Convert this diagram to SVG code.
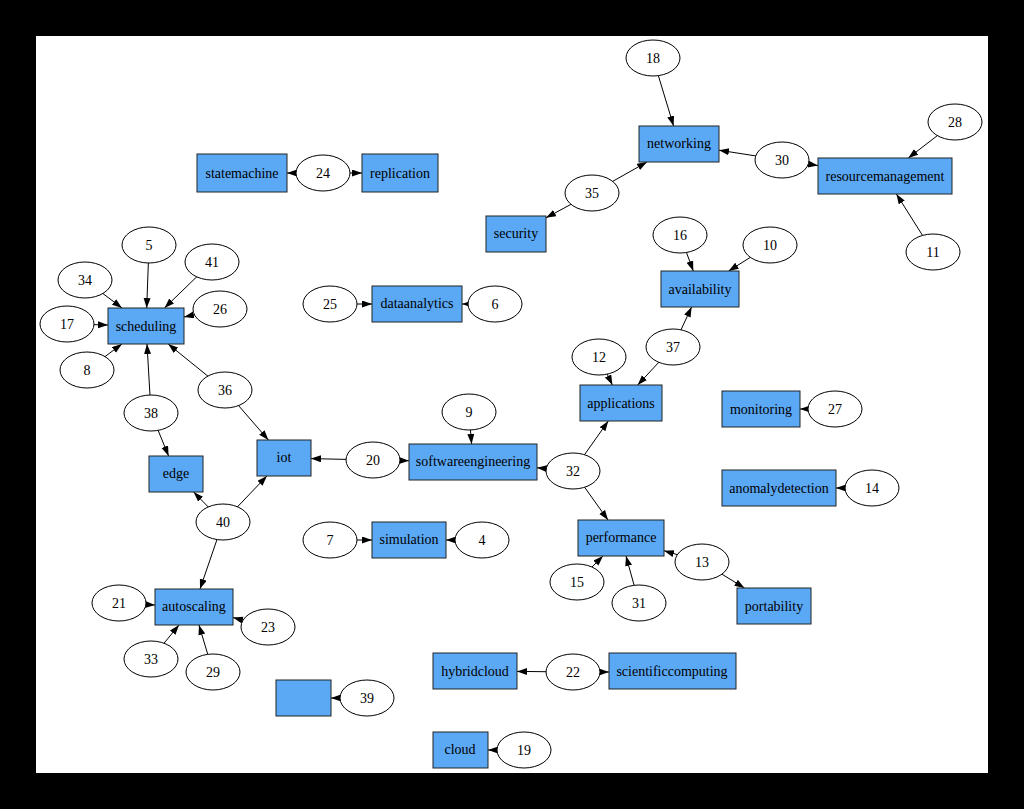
<svg xmlns="http://www.w3.org/2000/svg" width="1024" height="809" viewBox="0 0 1024 809">
<style>
.t{fill:#5BA8F5;stroke:#222;stroke-width:1}
.c{fill:#fff;stroke:#000;stroke-width:1}
text{font-family:"Liberation Serif","Times New Roman",serif;font-size:14px;fill:#000;text-anchor:middle}
.e line{stroke:#000;stroke-width:1;marker-end:url(#a)}
</style>
<defs>
<marker id="a" markerUnits="userSpaceOnUse" markerWidth="10" markerHeight="8" refX="10" refY="3.5" orient="auto"><path d="M0,0 L10,3.5 L0,7 z" fill="#000"/></marker>
</defs>
<rect x="0" y="0" width="1024" height="809" fill="#000"/>
<rect x="36" y="36" width="952" height="737" fill="#fff"/>
<g id="connectors" class="e">
<line x1="323" y1="173" x2="287" y2="173"/>
<line x1="323" y1="173" x2="362" y2="173"/>
<line x1="653" y1="58" x2="673.6" y2="126"/>
<line x1="782" y1="160" x2="719" y2="150.2"/>
<line x1="782" y1="160" x2="818" y2="165.6"/>
<line x1="955" y1="122" x2="908.3" y2="158"/>
<line x1="933" y1="252" x2="896.4" y2="194"/>
<line x1="592" y1="193" x2="647" y2="162"/>
<line x1="592" y1="193" x2="546" y2="217.8"/>
<line x1="680" y1="235" x2="693.3" y2="271"/>
<line x1="770" y1="245" x2="728.6" y2="271"/>
<line x1="673" y1="347" x2="691.6" y2="307"/>
<line x1="673" y1="347" x2="637.7" y2="385"/>
<line x1="599" y1="357" x2="612.4" y2="385"/>
<line x1="835" y1="409" x2="800" y2="409"/>
<line x1="872" y1="488" x2="836" y2="488"/>
<line x1="573" y1="471" x2="537" y2="467.8"/>
<line x1="573" y1="471" x2="608.3" y2="421"/>
<line x1="573" y1="471" x2="608" y2="520"/>
<line x1="702" y1="562" x2="664" y2="550.7"/>
<line x1="702" y1="562" x2="744.5" y2="588"/>
<line x1="577" y1="582" x2="603" y2="556"/>
<line x1="639" y1="603" x2="626" y2="556"/>
<line x1="469" y1="412" x2="471.6" y2="444"/>
<line x1="373" y1="460" x2="311" y2="458.6"/>
<line x1="373" y1="460" x2="409" y2="460.7"/>
<line x1="330" y1="304" x2="372" y2="304"/>
<line x1="495" y1="304" x2="462" y2="304"/>
<line x1="330" y1="540" x2="372" y2="540"/>
<line x1="482" y1="540" x2="446" y2="540"/>
<line x1="149" y1="245" x2="146.7" y2="308"/>
<line x1="212" y1="262" x2="164.5" y2="308"/>
<line x1="85" y1="280" x2="122" y2="308"/>
<line x1="220" y1="309" x2="184" y2="317"/>
<line x1="67" y1="324" x2="108" y2="325"/>
<line x1="87" y1="370" x2="121.9" y2="344"/>
<line x1="225" y1="390" x2="168.2" y2="344"/>
<line x1="225" y1="390" x2="268.4" y2="440"/>
<line x1="151" y1="413" x2="147" y2="344"/>
<line x1="151" y1="413" x2="168.6" y2="456"/>
<line x1="223" y1="522" x2="193.6" y2="492"/>
<line x1="223" y1="522" x2="266.9" y2="476"/>
<line x1="223" y1="522" x2="200" y2="589"/>
<line x1="119" y1="603" x2="155" y2="605"/>
<line x1="268" y1="627" x2="233" y2="617.5"/>
<line x1="151" y1="659" x2="179" y2="625"/>
<line x1="213" y1="672" x2="199" y2="625"/>
<line x1="367" y1="698" x2="331" y2="698"/>
<line x1="573" y1="672" x2="517" y2="671.4"/>
<line x1="573" y1="672" x2="609" y2="672"/>
<line x1="524" y1="750" x2="488" y2="750"/>
</g>
<g id="scheduling"><rect class="t" x="108" y="308" width="76" height="36"/><text x="146" y="331">scheduling</text></g>
<g id="statemachine"><rect class="t" x="197" y="154" width="90" height="38"/><text x="242" y="178">statemachine</text></g>
<g id="replication"><rect class="t" x="362" y="154" width="76" height="38"/><text x="400" y="178">replication</text></g>
<g id="networking"><rect class="t" x="639" y="126" width="80" height="36"/><text x="679" y="148">networking</text></g>
<g id="resourcemanagement"><rect class="t" x="818" y="158" width="134" height="36"/><text x="885" y="181">resourcemanagement</text></g>
<g id="security"><rect class="t" x="486" y="216" width="60" height="36"/><text x="516" y="238">security</text></g>
<g id="availability"><rect class="t" x="661" y="271" width="78" height="36"/><text x="700" y="294">availability</text></g>
<g id="applications"><rect class="t" x="580" y="385" width="82" height="36"/><text x="621" y="408">applications</text></g>
<g id="monitoring"><rect class="t" x="722" y="391" width="78" height="36"/><text x="761" y="414">monitoring</text></g>
<g id="anomalydetection"><rect class="t" x="722" y="470" width="114" height="36"/><text x="779" y="493">anomalydetection</text></g>
<g id="performance"><rect class="t" x="578" y="520" width="86" height="36"/><text x="621" y="542">performance</text></g>
<g id="portability"><rect class="t" x="737" y="588" width="74" height="36"/><text x="774" y="611">portability</text></g>
<g id="softwareengineering"><rect class="t" x="409" y="444" width="128" height="36"/><text x="473" y="466">softwareengineering</text></g>
<g id="dataanalytics"><rect class="t" x="372" y="286" width="90" height="36"/><text x="417" y="308">dataanalytics</text></g>
<g id="simulation"><rect class="t" x="372" y="522" width="74" height="36"/><text x="409" y="544">simulation</text></g>
<g id="iot"><rect class="t" x="257" y="440" width="54" height="36"/><text x="284" y="462">iot</text></g>
<g id="edge"><rect class="t" x="149" y="456" width="54" height="36"/><text x="176" y="478">edge</text></g>
<g id="autoscaling"><rect class="t" x="155" y="589" width="78" height="36"/><text x="194" y="611">autoscaling</text></g>
<g id="blank"><rect class="t" x="276" y="680" width="55" height="36"/></g>
<g id="hybridcloud"><rect class="t" x="433" y="653" width="84" height="36"/><text x="475" y="676">hybridcloud</text></g>
<g id="scientificcomputing"><rect class="t" x="609" y="653" width="127" height="36"/><text x="672" y="676">scientificcomputing</text></g>
<g id="cloud"><rect class="t" x="433" y="732" width="55" height="36"/><text x="460" y="754">cloud</text></g>
<g id="n24"><ellipse class="c" cx="323" cy="173" rx="27" ry="18"/><text x="323" y="178">24</text></g>
<g id="n18"><ellipse class="c" cx="653" cy="58" rx="27" ry="18"/><text x="653" y="63">18</text></g>
<g id="n30"><ellipse class="c" cx="782" cy="160" rx="27" ry="18"/><text x="782" y="165">30</text></g>
<g id="n28"><ellipse class="c" cx="955" cy="122" rx="27" ry="18"/><text x="955" y="127">28</text></g>
<g id="n11"><ellipse class="c" cx="933" cy="252" rx="27" ry="18"/><text x="933" y="257">11</text></g>
<g id="n35"><ellipse class="c" cx="592" cy="193" rx="27" ry="18"/><text x="592" y="198">35</text></g>
<g id="n16"><ellipse class="c" cx="680" cy="235" rx="27" ry="18"/><text x="680" y="240">16</text></g>
<g id="n10"><ellipse class="c" cx="770" cy="245" rx="27" ry="18"/><text x="770" y="250">10</text></g>
<g id="n37"><ellipse class="c" cx="673" cy="347" rx="27" ry="18"/><text x="673" y="352">37</text></g>
<g id="n12"><ellipse class="c" cx="599" cy="357" rx="27" ry="18"/><text x="599" y="362">12</text></g>
<g id="n27"><ellipse class="c" cx="835" cy="409" rx="27" ry="18"/><text x="835" y="414">27</text></g>
<g id="n32"><ellipse class="c" cx="573" cy="471" rx="27" ry="18"/><text x="573" y="476">32</text></g>
<g id="n14"><ellipse class="c" cx="872" cy="488" rx="27" ry="18"/><text x="872" y="493">14</text></g>
<g id="n13"><ellipse class="c" cx="702" cy="562" rx="27" ry="18"/><text x="702" y="567">13</text></g>
<g id="n15"><ellipse class="c" cx="577" cy="582" rx="27" ry="18"/><text x="577" y="587">15</text></g>
<g id="n31"><ellipse class="c" cx="639" cy="603" rx="27" ry="18"/><text x="639" y="608">31</text></g>
<g id="n9"><ellipse class="c" cx="469" cy="412" rx="27" ry="18"/><text x="469" y="417">9</text></g>
<g id="n20"><ellipse class="c" cx="373" cy="460" rx="27" ry="18"/><text x="373" y="465">20</text></g>
<g id="n25"><ellipse class="c" cx="330" cy="304" rx="27" ry="18"/><text x="330" y="309">25</text></g>
<g id="n6"><ellipse class="c" cx="495" cy="304" rx="27" ry="18"/><text x="495" y="309">6</text></g>
<g id="n7"><ellipse class="c" cx="330" cy="540" rx="27" ry="18"/><text x="330" y="545">7</text></g>
<g id="n4"><ellipse class="c" cx="482" cy="540" rx="27" ry="18"/><text x="482" y="545">4</text></g>
<g id="n38"><ellipse class="c" cx="151" cy="413" rx="27" ry="18"/><text x="151" y="418">38</text></g>
<g id="n36"><ellipse class="c" cx="225" cy="390" rx="27" ry="18"/><text x="225" y="395">36</text></g>
<g id="n40"><ellipse class="c" cx="223" cy="522" rx="27" ry="18"/><text x="223" y="527">40</text></g>
<g id="n21"><ellipse class="c" cx="119" cy="603" rx="27" ry="18"/><text x="119" y="608">21</text></g>
<g id="n23"><ellipse class="c" cx="268" cy="627" rx="27" ry="18"/><text x="268" y="632">23</text></g>
<g id="n33"><ellipse class="c" cx="151" cy="659" rx="27" ry="18"/><text x="151" y="664">33</text></g>
<g id="n29"><ellipse class="c" cx="213" cy="672" rx="27" ry="18"/><text x="213" y="677">29</text></g>
<g id="n39"><ellipse class="c" cx="367" cy="698" rx="27" ry="18"/><text x="367" y="703">39</text></g>
<g id="n22"><ellipse class="c" cx="573" cy="672" rx="27" ry="18"/><text x="573" y="677">22</text></g>
<g id="n19"><ellipse class="c" cx="524" cy="750" rx="27" ry="18"/><text x="524" y="755">19</text></g>
<g id="n5"><ellipse class="c" cx="149" cy="245" rx="27" ry="18"/><text x="149" y="250">5</text></g>
<g id="n41"><ellipse class="c" cx="212" cy="262" rx="27" ry="18"/><text x="212" y="267">41</text></g>
<g id="n34"><ellipse class="c" cx="85" cy="280" rx="27" ry="18"/><text x="85" y="285">34</text></g>
<g id="n26"><ellipse class="c" cx="220" cy="309" rx="27" ry="18"/><text x="220" y="314">26</text></g>
<g id="n17"><ellipse class="c" cx="67" cy="324" rx="27" ry="18"/><text x="67" y="329">17</text></g>
<g id="n8"><ellipse class="c" cx="87" cy="370" rx="27" ry="18"/><text x="87" y="375">8</text></g>
</svg>
